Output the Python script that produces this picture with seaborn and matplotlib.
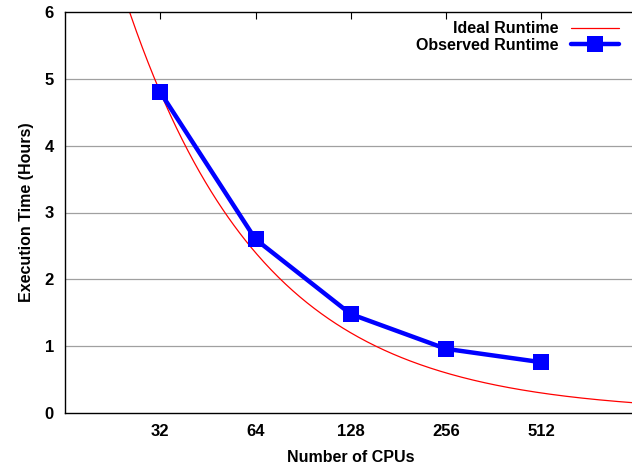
import numpy as np
import pandas as pd
import matplotlib
matplotlib.use("Agg")
import matplotlib.pyplot as plt
from matplotlib.ticker import FixedLocator, FixedFormatter, NullLocator
import seaborn as sns

# observed runtimes
cpus = [32, 64, 128, 256, 512]
observed_hours = [4.80, 2.60, 1.48, 0.96, 0.76]

# ideal runtime: perfect scaling from the 32-CPU run
base_cpus = 32
base_hours = 4.8
x_ticks = [32, 64, 128, 256, 512]
y_ticks = [0, 1, 2, 3, 4, 5, 6]

sns.set_style("white")
plt.rcParams['font.family'] = ['Liberation Sans', 'DejaVu Sans']
plt.rcParams['font.weight'] = 'bold'
plt.rcParams['text.color'] = 'black'
plt.rcParams['axes.labelcolor'] = 'black'
plt.rcParams['xtick.color'] = 'black'
plt.rcParams['ytick.color'] = 'black'

fig = plt.figure(figsize=(6.32, 4.68), dpi=100)
ax = fig.add_axes([65 / 632, 55 / 468, 571.5 / 632, 401 / 468])

ideal_x = np.geomspace(16, 1024, 400)
ideal = pd.DataFrame({'cpus': ideal_x, 'hours': base_hours * base_cpus / ideal_x})
obs = pd.DataFrame({'cpus': cpus, 'hours': observed_hours})

ax.set_xscale('log', base=2)
sns.lineplot(data=ideal, x='cpus', y='hours', ax=ax, color='#ff0000', lw=0.9,
             label='Ideal Runtime')
sns.lineplot(data=obs, x='cpus', y='hours', ax=ax, color='#0000ff', lw=3.2,
             marker='s', markersize=11, markeredgewidth=0, label='Observed Runtime')

ax.set_xlim(16, 1024)
ax.set_ylim(0, 6)
ax.xaxis.set_major_locator(FixedLocator(x_ticks))
ax.xaxis.set_major_formatter(FixedFormatter([str(t) for t in x_ticks]))
ax.xaxis.set_minor_locator(NullLocator())
ax.set_yticks(y_ticks)
ax.tick_params(axis='both', direction='in', length=5, width=0.8, labelsize=12,
               top=True, right=False, pad=8, colors='black')
for lab in ax.get_xticklabels() + ax.get_yticklabels():
    lab.set_fontweight('bold')

for y in y_ticks[1:-1]:
    ax.axhline(y, color='#a0a0a0', lw=0.9, zorder=0)

for side in ['left', 'bottom', 'top']:
    ax.spines[side].set_color('black')
    ax.spines[side].set_linewidth(1.0)
ax.spines['right'].set_visible(False)

ax.set_xlabel('Number of CPUs', fontsize=11.5, fontweight='bold', labelpad=8)
ax.set_ylabel('Execution Time (Hours)', fontsize=11.5, fontweight='bold', labelpad=8)

leg = ax.legend(loc='upper right', bbox_to_anchor=(0.995, 1.013), frameon=False,
                markerfirst=False, fontsize=11.5, handlelength=3.0,
                labelspacing=0.1, handletextpad=0.8)
for t in leg.get_texts():
    t.set_fontweight('bold')
    t.set_color('black')

fig.savefig('out.png', dpi=100)
